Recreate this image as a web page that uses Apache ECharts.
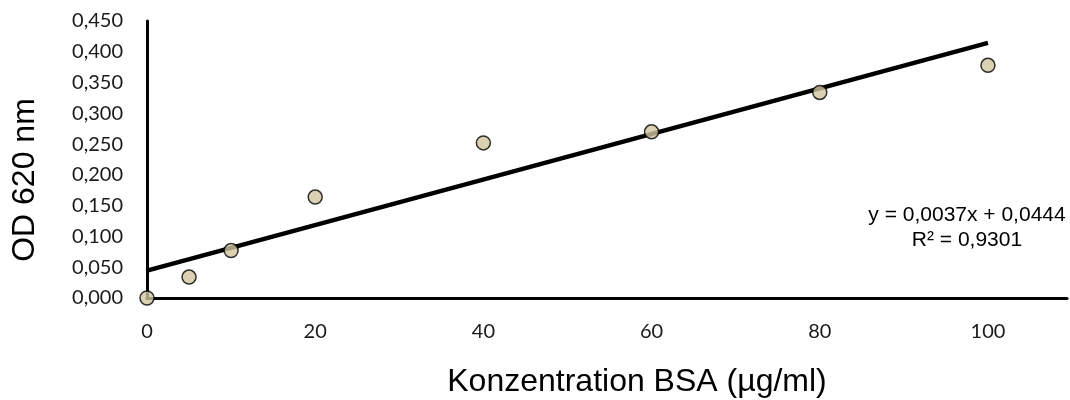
<!DOCTYPE html>
<html>
<head>
<meta charset="utf-8">
<script src="https://cdn.jsdelivr.net/npm/echarts@6/dist/echarts.min.js"></script>
<style>html,body{margin:0;padding:0;background:#fff}#c{width:1070px;height:400px}</style>
</head>
<body>
<div id="c"></div>
<script>
const concentrations = [0, 5, 10, 20, 40, 60, 80, 100];
const odValues = [0.000, 0.034, 0.077, 0.164, 0.252, 0.270, 0.334, 0.378];
const slope = 0.0037;
const intercept = 0.0444;
const trendX = [0, 100];
const xTicks = [0, 20, 40, 60, 80, 100];
const equationText = 'y = 0,0037x + 0,0444';
const r2Text = 'R² = 0,9301';
const xTitle = 'Konzentration BSA (µg/ml)';
const yTitle = 'OD 620 nm';

const scatterData = concentrations.map((x, i) => [x, odValues[i]]);
const trendData = trendX.map(x => [x, slope * x + intercept]);

const chart = echarts.init(document.getElementById('c'));
chart.setOption({
  animation: false,
  grid: {left: 147, top: 21, right: 2, bottom: 102, containLabel: false},
  xAxis: {
    type: 'value', min: 0, max: 109.4, interval: 20,
    axisLine: {show: true, lineStyle: {color: '#000', width: 3}},
    axisTick: {show: false},
    splitLine: {show: false},
    axisLabel: {
      margin: 24, color: '#1a1a1a', fontFamily: 'Lato', fontSize: 20,
      formatter: v => xTicks.includes(v) ? String(v) : ''
    }
  },
  yAxis: {
    type: 'value', min: 0, max: 0.45, interval: 0.05,
    axisLine: {show: true, lineStyle: {color: '#000', width: 3}},
    axisTick: {show: false},
    splitLine: {show: false},
    axisLabel: {
      margin: 24, color: '#1a1a1a', fontFamily: 'Lato', fontSize: 20,
      formatter: v => v.toFixed(3).replace('.', ',')
    }
  },
  series: [
    {
      type: 'line', data: trendData, showSymbol: false, symbol: 'none',
      lineStyle: {color: '#000', width: 4.5}, z: 2, silent: true
    },
    {
      type: 'scatter', data: scatterData, symbol: 'circle', symbolSize: 14,
      itemStyle: {color: '#CFC59F', borderColor: '#000', borderWidth: 1.5}, z: 3
    }
  ],
  graphic: [
    {type: 'text', position: [637, 382], style: {text: xTitle, fontFamily: 'Liberation Sans', fontSize: 32, fill: '#000', textAlign: 'center', textVerticalAlign: 'middle'}},
    {type: 'text', rotation: Math.PI / 2, position: [25, 180], style: {text: yTitle, fontFamily: 'Liberation Sans', fontSize: 32, fill: '#000', textAlign: 'center', textVerticalAlign: 'middle'}},
    {type: 'text', position: [967, 215], style: {text: equationText, fontFamily: 'Liberation Sans', fontSize: 21, fill: '#000', textAlign: 'center', textVerticalAlign: 'middle'}},
    {type: 'text', position: [967, 240], style: {text: r2Text, fontFamily: 'Liberation Sans', fontSize: 21, fill: '#000', textAlign: 'center', textVerticalAlign: 'middle'}}
  ]
});
</script>
</body>
</html>
